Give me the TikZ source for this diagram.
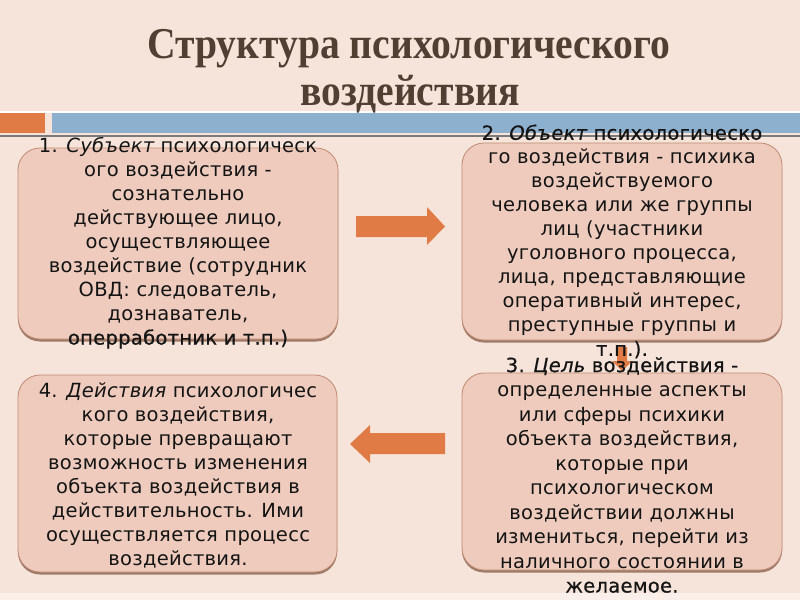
\documentclass[tikz,border=0pt]{standalone}
\usepackage{fontspec}
\newfontfamily\bodyfont[LetterSpace=1.5]{DejaVu Sans}
\newfontfamily\bodyfontheavy[LetterSpace=1.5,FakeBold=0.6]{DejaVu Sans}
\newfontfamily\titlefont[FakeStretch=0.9]{Liberation Serif}
\definecolor{bgc}{HTML}{F6E4DA}
\definecolor{boxfill}{HTML}{EECBBD}
\definecolor{boxline}{HTML}{C08A72}
\definecolor{boxshadow}{HTML}{9E7A69}
\definecolor{orangeA}{HTML}{E07B45}
\definecolor{blueA}{HTML}{8EB0CF}
\definecolor{grayA}{HTML}{7A7A7A}
\definecolor{titlec}{HTML}{523F34}
\definecolor{textc}{HTML}{141414}
\tikzset{
  boxshape/.style={fill=boxfill, draw=boxline, line width=0.8pt, rounded corners=22pt},
  boxshade/.style={fill=boxshadow, rounded corners=22pt},
  bodytext/.style={font=\bodyfont\fontsize{19.5}{24}\selectfont, text=textc, align=center, inner sep=0pt},
  bodytextwide/.style={bodytext, font=\bodyfont\fontsize{19.5}{24.5}\selectfont},
  titletext/.style={font=\titlefont\bfseries\fontsize{44}{50}\selectfont, text=titlec, inner sep=0pt, anchor=base},
  blockarrow/.style={fill=orangeA}
}
\newcommand{\heavy}[1]{{\bodyfontheavy #1}}
\begin{document}
\begin{tikzpicture}[x=1pt,y=-1pt]
\useasboundingbox (0,0) rectangle (800,600);
\fill[bgc] (0,0) rectangle (800,600);
\fill[white!40!bgc] (0,593) rectangle (800,600);
% header bars
\fill[white] (0,111) rectangle (800,113);
\fill[orangeA] (0,113) rectangle (45,133);
\fill[blueA] (52,113) rectangle (800,133);
\fill[grayA] (0,134.5) rectangle (800,137);
% title
\node[titletext] (t1) at (409,58) {Структура психологического};
\node[titletext] (t2) at (410,105) {воздействия};
% boxes
\fill[boxshade] (18,150.5) rectangle (338,341.5);
\draw[boxshape] (18,148) rectangle (338,339);
\fill[boxshade] (462,145.5) rectangle (782,342.5);
\draw[boxshape] (462,143) rectangle (782,340);
\fill[boxshade] (462,375.5) rectangle (782,572.5);
\draw[boxshape] (462,373) rectangle (782,570);
\fill[boxshade] (18,377.5) rectangle (337,574.5);
\draw[boxshape] (18,375) rectangle (337,572);
% arrows
\fill[blockarrow] (356,216) -- (427,216) -- (427,207) -- (445,226.5) -- (427,245) -- (427,237) -- (356,237) -- cycle;
\fill[blockarrow] (445,433) -- (370,433) -- (370,425) -- (350,444) -- (370,463) -- (370,454) -- (445,454) -- cycle;
\fill[blockarrow] (617,347) -- (627,347) -- (627,361) -- (632,361) -- (622,371) -- (612,361) -- (617,361) -- cycle;
% texts
\node[bodytext] (b1) at (178,243) {1. {\itshape Субъект} психологическ\\ого воздействия -\\сознательно\\действующее лицо,\\осуществляющее\\воздействие (сотрудник\\ОВД: следователь,\\дознаватель,\\\heavy{оперработник и т.п.)}};
\node[bodytext] (b2) at (622,241.5) {\heavy{2. {\itshape Объект} психологическо}\\го воздействия - психика\\воздействуемого\\человека или же группы\\лиц (участники\\уголовного процесса,\\лица, представляющие\\оперативный интерес,\\преступные группы и\\\heavy{т.п.).}};
\node[bodytextwide] (b3) at (622,475) {\heavy{3. {\itshape Цель} воздействия -}\\определенные аспекты\\или сферы психики\\объекта воздействия,\\которые при\\психологическом\\воздействии должны\\измениться, перейти из\\наличного состоянии в\\\heavy{желаемое.}};
\node[bodytext] (b4) at (178,475) {4. {\itshape Действия} психологичес\\кого воздействия,\\которые превращают\\возможность изменения\\объекта воздействия в\\действительность. Ими\\осуществляется процесс\\воздействия.};
\end{tikzpicture}
\end{document}
